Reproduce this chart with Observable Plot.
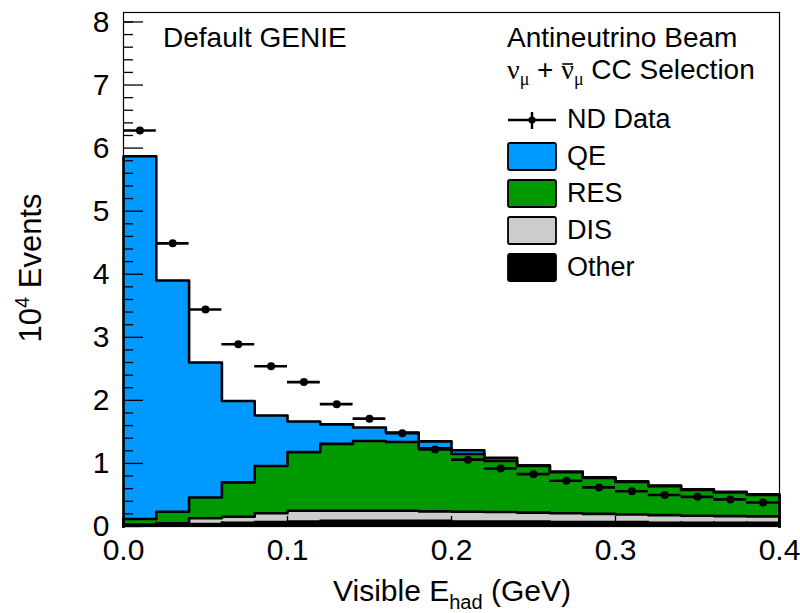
<!DOCTYPE html>
<html>
<head>
<meta charset="utf-8">
<script src="https://cdn.jsdelivr.net/npm/d3@7"></script>
<script src="https://cdn.jsdelivr.net/npm/@observablehq/plot@0.6"></script>
<style>
  html, body { margin: 0; padding: 0; background: #fff; }
  #chart svg { display: block; }
</style>
</head>
<body>
<div id="chart"></div>
<script>
// ---- data (units of 10^4 events), 20 bins of Visible E_had (GeV) ----
const binLow  = [0.00,0.02,0.04,0.06,0.08,0.10,0.12,0.14,0.16,0.18,0.20,0.22,0.24,0.26,0.28,0.30,0.32,0.34,0.36,0.38];
const binHigh = [0.02,0.04,0.06,0.08,0.10,0.12,0.14,0.16,0.18,0.20,0.22,0.24,0.26,0.28,0.30,0.32,0.34,0.36,0.38,0.40];
const ndData  = [6.28,4.49,3.44,2.89,2.54,2.29,1.94,1.71,1.48,1.22,1.06,0.92,0.83,0.725,0.62,0.56,0.50,0.47,0.43,0.38];
const qe      = [5.75,3.665,2.14,1.29,0.80,0.485,0.31,0.215,0.15,0.11,0.06,0.05,0.01,0.01,0.01,0.01,0.01,0.01,0.01,0.01];
const res     = [0.09,0.185,0.33,0.545,0.75,0.93,1.06,1.105,1.09,1.00,0.915,0.81,0.74,0.65,0.57,0.515,0.46,0.41,0.375,0.34];
const dis     = [0.01,0.02,0.09,0.095,0.14,0.17,0.16,0.16,0.16,0.15,0.155,0.15,0.14,0.14,0.13,0.12,0.12,0.11,0.105,0.10];
const other   = [0.02,0.03,0.04,0.06,0.07,0.08,0.09,0.09,0.09,0.09,0.08,0.08,0.08,0.07,0.07,0.07,0.06,0.06,0.06,0.06];
const components = ["Other","DIS","RES","QE"];           // stacking order, bottom to top
const compValues = {Other: other, DIS: dis, RES: res, QE: qe};
const compColors = ["#000000","#cccccc","#009900","#0099ff"];
const xTicksMajor = [0.0,0.1,0.2,0.3,0.4];
const xTicksMinor = binHigh;
const yTicksMajor = [0,1,2,3,4,5,6,7,8];
const yTicksMinor = [0.2,0.4,0.6,0.8,1.2,1.4,1.6,1.8,2.2,2.4,2.6,2.8,3.2,3.4,3.6,3.8,4.2,4.4,4.6,4.8,5.2,5.4,5.6,5.8,6.2,6.4,6.6,6.8,7.2,7.4,7.6,7.8,8.0];

// ---- build stacked step rows ----
const areaRows = [];
const outlineRows = [];
const cum = binLow.map(() => 0);
components.forEach((c) => {
  const vals = compValues[c];
  const bottoms = cum.slice();
  vals.forEach((v, i) => { cum[i] += v; });
  binLow.forEach((x, i) => areaRows.push({comp: c, x, y1: bottoms[i], y2: cum[i]}));
  const last = binLow.length - 1;
  areaRows.push({comp: c, x: binHigh[last], y1: bottoms[last], y2: cum[last]});
  outlineRows.push({comp: c, x: binLow[0], y: 0});
  binLow.forEach((x, i) => outlineRows.push({comp: c, x, y: cum[i]}));
  outlineRows.push({comp: c, x: binHigh[last], y: cum[last]});
  outlineRows.push({comp: c, x: binHigh[last], y: 0});
});
const ndRows = ndData.map((v, i) => ({lo: binLow[i], hi: binHigh[i], c: (binLow[i] + binHigh[i]) / 2, v}));

const FONT = "'Liberation Sans', Arial, Helvetica, sans-serif";
const SERIF = "'Liberation Serif', 'DejaVu Serif', serif";

const plot = Plot.plot({
  width: 800,
  height: 613,
  marginLeft: 123,
  marginRight: 21,
  marginTop: 12,
  marginBottom: 87,
  style: {fontFamily: FONT, fontSize: "30px", color: "#000", background: "#fff"},
  x: {domain: [0, 0.4]},
  y: {domain: [0, 8.15]},
  color: {domain: components, range: compColors},
  marks: [
    Plot.areaY(areaRows, {x: "x", y1: "y1", y2: "y2", z: "comp", fill: "comp", curve: "step-after"}),
    Plot.lineY(outlineRows, {x: "x", y: "y", z: "comp", stroke: "#000", strokeWidth: 2.6, curve: "step-after"}),
    Plot.ruleY(ndRows, {y: "v", x1: "lo", x2: "hi", stroke: "#000", strokeWidth: 2.6}),
    Plot.dot(ndRows, {x: "c", y: "v", r: 4, fill: "#000", stroke: null}),
    Plot.axisY({ticks: yTicksMajor, tickSize: 0, tickPadding: 14, tickFormat: d3.format("d"), label: null, fontSize: 30}),
    Plot.axisY({ticks: yTicksMajor, tickSize: -20, text: null, label: null, strokeWidth: 1.3}),
    Plot.axisY({ticks: yTicksMinor, tickSize: -10, text: null, label: null, strokeWidth: 1.3}),
    Plot.axisX({ticks: xTicksMajor, tickSize: 0, tickPadding: 12, tickFormat: d3.format(".1f"), label: null, fontSize: 30}),
    Plot.axisX({ticks: xTicksMajor, tickSize: -10, text: null, label: null, strokeWidth: 1.3}),
    Plot.axisX({ticks: xTicksMinor, tickSize: -5, text: null, label: null, strokeWidth: 1.3}),
    Plot.frame({stroke: "#000", strokeWidth: 1.2})
  ]
});
document.getElementById("chart").appendChild(plot);

// ---- annotations, titles and legend ----
const svg = d3.select(plot);
const g = svg.append("g").attr("font-family", FONT).attr("fill", "#000").attr("text-anchor", "start");

// axis titles
const xt = g.append("text").attr("x", 452).attr("y", 601).attr("text-anchor", "middle").attr("font-size", 30);
xt.append("tspan").text("Visible E");
xt.append("tspan").attr("font-size", 20).attr("dy", 8).text("had");
xt.append("tspan").attr("dy", -8).text(" (GeV)");

const yt = g.append("text").attr("transform", "translate(41,268) rotate(-90)").attr("text-anchor", "middle").attr("font-size", 31);
yt.append("tspan").text("10");
yt.append("tspan").attr("font-size", 20).attr("dy", -12).text("4");
yt.append("tspan").attr("dy", 12).text(" Events");

// top-left label
g.append("text").attr("x", 163).attr("y", 47).attr("font-size", 28).text("Default GENIE");

// top-right header
g.append("text").attr("x", 507).attr("y", 47).attr("font-size", 28).text("Antineutrino Beam");
const sel = g.append("text").attr("x", 507).attr("y", 79).attr("font-size", 28);
sel.append("tspan").attr("font-family", SERIF).text("ν");
sel.append("tspan").attr("font-family", SERIF).attr("font-size", 18).attr("dy", 6).text("μ");
sel.append("tspan").attr("dy", -6).text(" + ");
sel.append("tspan").attr("font-family", SERIF).text("ν");
sel.append("tspan").attr("font-family", SERIF).attr("font-size", 18).attr("dy", 6).text("μ");
sel.append("tspan").attr("dy", -6).text(" CC Selection");
// bar over the second ν (antineutrino)
{
  const node = sel.node();
  const full = node.textContent;
  const idx = full.indexOf("ν", 1);
  const ext = node.getExtentOfChar(idx);
  g.append("line").attr("x1", ext.x + 1).attr("x2", ext.x + ext.width - 1)
    .attr("y1", 64).attr("y2", 64).attr("stroke", "#000").attr("stroke-width", 1.6);
}

// legend
const legendItems = [
  {label: "ND Data", type: "data"},
  {label: "QE", type: "box", color: compColors[3]},
  {label: "RES", type: "box", color: compColors[2]},
  {label: "DIS", type: "box", color: compColors[1]},
  {label: "Other", type: "box", color: compColors[0]}
];
const legendTop = 118, legendStep = 37;
legendItems.forEach((d, i) => {
  const cy = legendTop + i * legendStep;
  if (d.type === "data") {
    g.append("line").attr("x1", 508).attr("x2", 556).attr("y1", cy + 2).attr("y2", cy + 2).attr("stroke", "#000").attr("stroke-width", 2.4);
    g.append("line").attr("x1", 532).attr("x2", 532).attr("y1", cy - 6).attr("y2", cy + 11).attr("stroke", "#000").attr("stroke-width", 2.4);
    g.append("circle").attr("cx", 532).attr("cy", cy + 2).attr("r", 3.6).attr("fill", "#000");
  } else {
    g.append("rect").attr("x", 508).attr("y", cy - 12).attr("width", 48).attr("height", 27).attr("rx", 2)
      .attr("fill", d.color).attr("stroke", "#000").attr("stroke-width", 1.8);
  }
  g.append("text").attr("x", 567).attr("y", cy + 10).attr("font-size", 27).text(d.label);
});
</script>
</body>
</html>
